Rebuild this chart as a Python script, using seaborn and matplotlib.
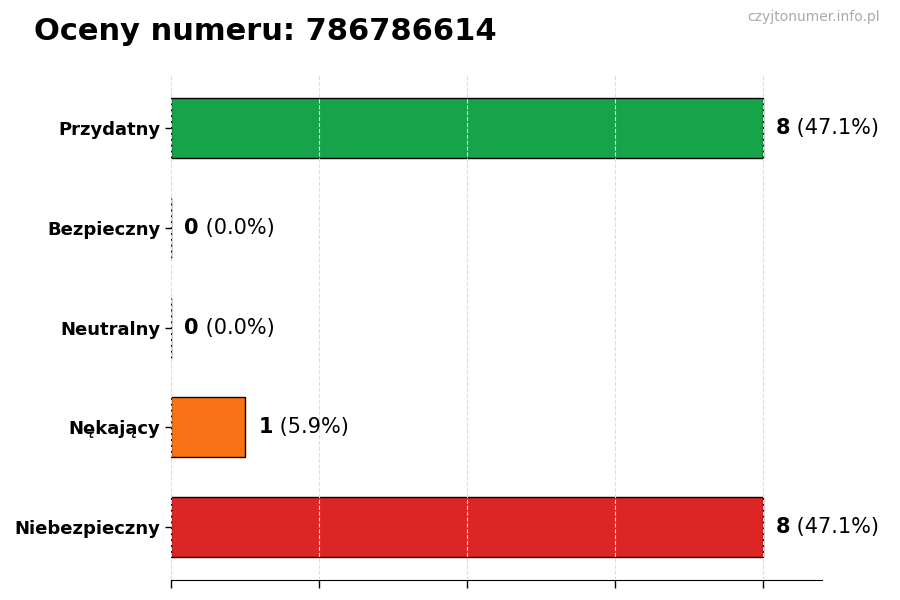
import numpy as np
import pandas as pd
import seaborn as sns
from matplotlib import pyplot as plt

categories = ['Przydatny', 'Bezpieczny', 'Neutralny', 'Nękający', 'Niebezpieczny']
counts = [8, 0, 0, 1, 8]
colors = ['#16a34a', '#16a34a', '#9ca3af', '#f97316', '#dc2626']
number = '786786614'

total = sum(counts)
df = pd.DataFrame({'cat': categories, 'count': counts})

sns.set_style('white')
plt.rcParams['font.family'] = ['DejaVu Sans']
plt.rcParams['text.color'] = 'black'
plt.rcParams['ytick.color'] = 'black'
plt.rcParams['xtick.color'] = 'black'

fig = plt.figure(figsize=(9, 6), dpi=100)
ax = fig.add_axes([0.19, 0.033, 0.723, 0.842])

sns.barplot(data=df, x='count', y='cat', hue='cat', palette=colors, legend=False,
            orient='h', width=0.6, edgecolor='black', linewidth=1, saturation=1,
            ax=ax, zorder=2)

ax.set_xlim(0, 8.8)
ax.set_ylim(4.53, -0.53)
ax.set_xticks([0, 2, 4, 6, 8])
ax.set_xticklabels([])
ax.tick_params(axis='x', length=6, width=1, bottom=True)
ax.tick_params(axis='y', length=4, width=1, left=True)
ax.grid(axis='x', linestyle='--', color='#dddddd', linewidth=0.8, zorder=3)
ax.set_axisbelow(False)
for s in ['top', 'right', 'left']:
    ax.spines[s].set_visible(False)
ax.spines['bottom'].set_color('black')
ax.set_xlabel('')
ax.set_ylabel('')
for lab in ax.get_yticklabels():
    lab.set_fontweight('bold')
    lab.set_fontsize(13)
    lab.set_color('black')

for i, c in enumerate(counts):
    pct = c / total * 100
    t = ax.text(c + 0.18, i, str(c), va='center', ha='left', fontsize=15,
                fontweight='bold', color='black')
    ax.annotate(f' ({pct:.1f}%)', xy=(1, 0.5), xycoords=t, va='center', ha='left',
                fontsize=15, color='black')

fig.text(0.038, 0.948, f'Oceny numeru: {number}', fontsize=22, fontweight='bold',
         va='center', color='black')
fig.text(0.978, 0.971, 'czyjtonumer.info.pl', fontsize=10, color='#aaaaaa',
         ha='right', va='center')

fig.savefig('out.png', dpi=100)
